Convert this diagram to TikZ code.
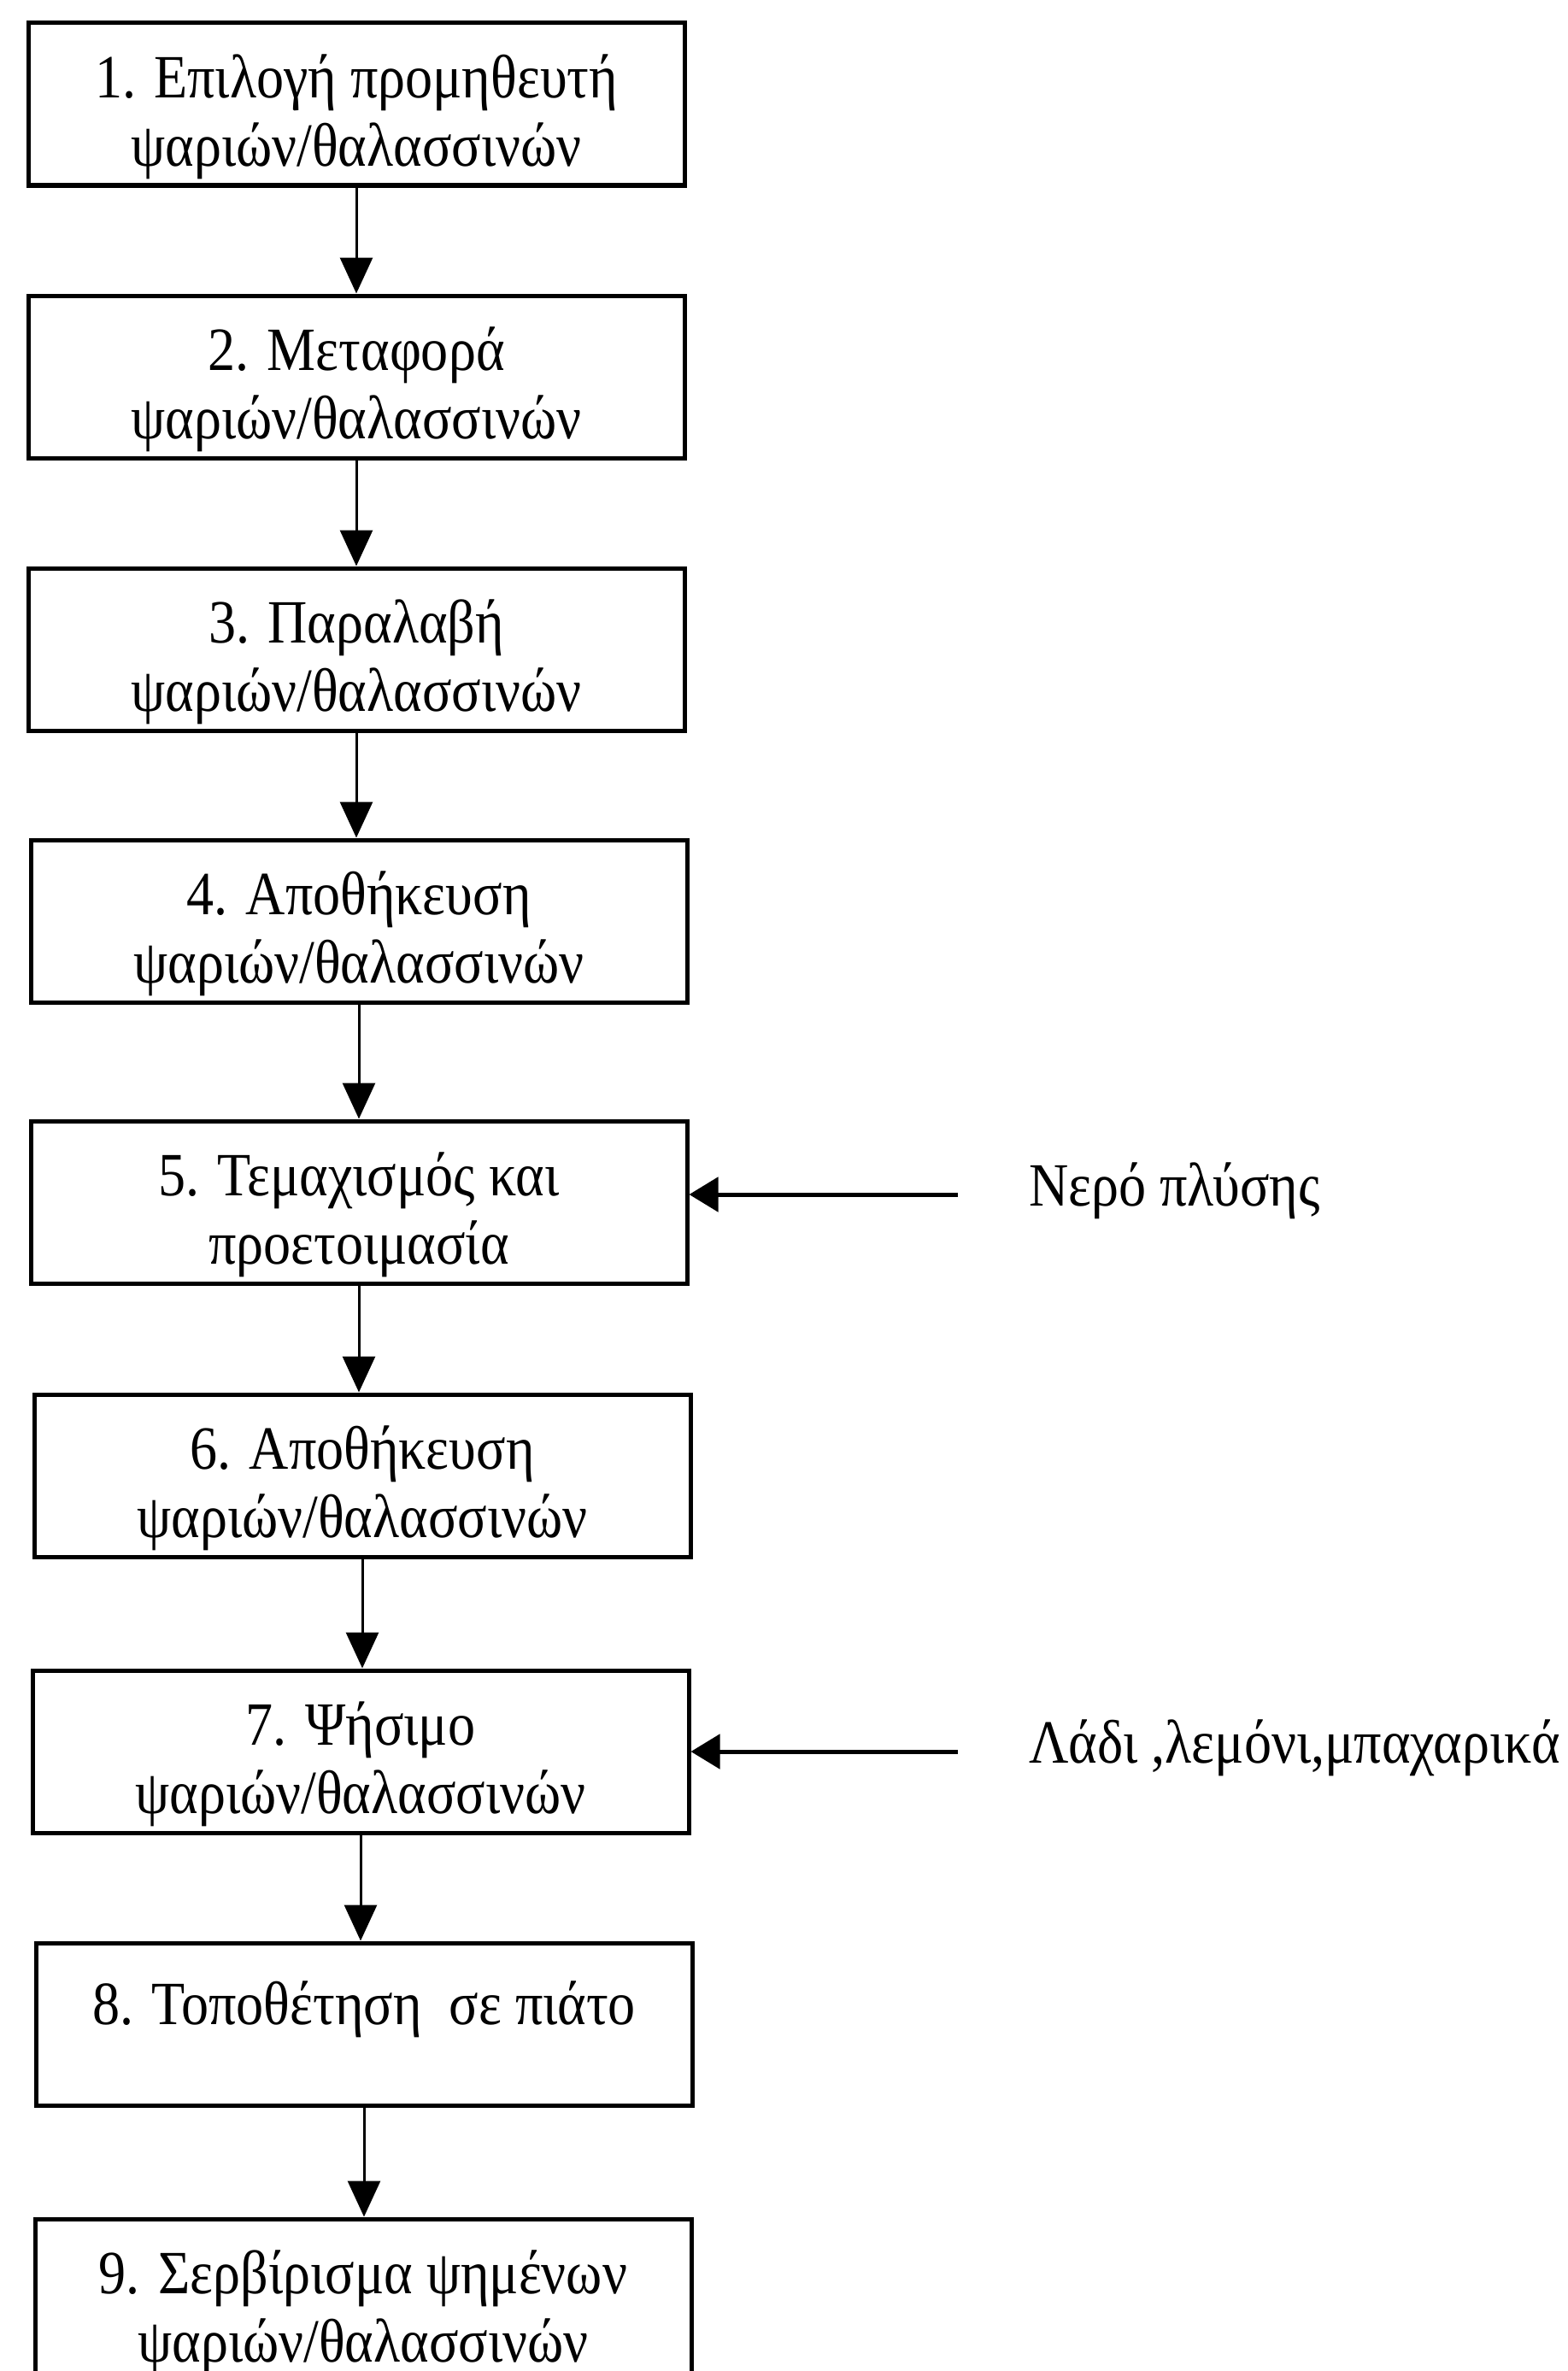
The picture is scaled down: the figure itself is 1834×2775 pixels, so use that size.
\documentclass[tikz,border=0pt]{standalone}
\usepackage{fontspec}
\setmainfont{Liberation Serif}[FakeStretch=0.89]
\usetikzlibrary{arrows.meta}
% invisible strut that lowers the text block a little inside each box
\newcommand\toplift{\rule{0pt}{80pt}}
\begin{document}
\begin{tikzpicture}[x=1pt,y=-1pt,
  stepbox/.style={draw, line width=5pt, minimum width=768pt, minimum height=190pt,
    inner sep=0pt, align=center, font=\fontsize{72}{80}\selectfont},
  sidelabel/.style={anchor=west, inner sep=0pt, font=\fontsize{72}{80}\selectfont},
  flow/.style={line width=3pt, -{Triangle[length=42pt,width=38pt]}},
  feed/.style={line width=5pt, -{Triangle[length=34pt,width=40pt]}}]
\useasboundingbox (0,0) rectangle (1834,2775);
% process steps
\node[stepbox] (b1) at (417,122) {\toplift 1. Επιλογή προμηθευτή\\ψαριών/θαλασσινών};
\node[stepbox] (b2) at (417,441) {\toplift 2. Μεταφορά\\ψαριών/θαλασσινών};
\node[stepbox] (b3) at (417,760) {\toplift 3. Παραλαβή\\ψαριών/θαλασσινών};
\node[stepbox] (b4) at (420,1078) {\toplift 4. Αποθήκευση\\ψαριών/θαλασσινών};
\node[stepbox] (b5) at (420,1407) {\toplift 5. Τεμαχισμός και\\προετοιμασία};
\node[stepbox] (b6) at (424,1727) {\toplift 6. Αποθήκευση\\ψαριών/θαλασσινών};
\node[stepbox] (b7) at (422,2050) {\toplift 7. Ψήσιμο\\ψαριών/θαλασσινών};
\node[stepbox] (b8) at (426,2369) {\toplift 8. Τοποθέτηση~~σε πιάτο\\\mbox{}};
\node[stepbox] (b9) at (425,2692) {\toplift 9. Σερβίρισμα ψημένων\\ψαριών/θαλασσινών};
% flow between steps
\foreach \a/\b in {b1/b2,b2/b3,b3/b4,b4/b5,b5/b6,b6/b7,b7/b8,b8/b9}
  \draw[flow] (\a.south) -- (\a.south |- \b.north);
% inputs
\node[sidelabel] (water) at (1204,1394) {Νερό πλύσης};
\node[sidelabel] (spice) at (1204,2046) {Λάδι ,λεμόνι,μπαχαρικά};
\coordinate (wIn) at (1121,1398);
\coordinate (sIn) at (1121,2050);
\draw[feed] (wIn) -- (b5.east |- wIn);
\draw[feed] (sIn) -- (b7.east |- sIn);
\end{tikzpicture}
\end{document}
